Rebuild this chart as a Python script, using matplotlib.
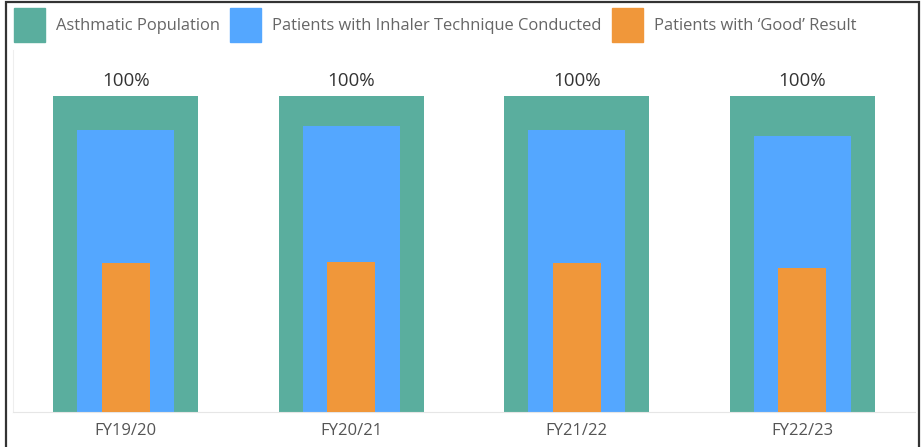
"""
plot.py — Asthma inhaler technique summary (nested bars)
"""
import matplotlib
matplotlib.use("Agg")
import matplotlib.pyplot as plt
import matplotlib.patches as mpatches
import numpy as np


# ── Data ──────────────────────────────────────────────────────────────
YEARS = ["FY19/20", "FY20/21", "FY21/22", "FY22/23"]
ASTHMATIC = [100, 100, 100, 100]           # % of asthmatic population
TECHNIQUE = [89.1, 90.4, 89.1, 87.3]       # % with inhaler technique conducted
GOOD = [47.2, 47.6, 47.2, 45.7]            # % with 'Good' result

SERIES_NAMES = [
    "Asthmatic Population",
    "Patients with Inhaler Technique Conducted",
    "Patients with \u2018Good\u2019 Result",
]
COLORS = ["#5aae9e", "#54a7ff", "#f0973a"]

plt.rcParams["font.family"] = ["Open Sans", "DejaVu Sans"]

# ── Figure ────────────────────────────────────────────────────────────
W, H = 922, 447
fig = plt.figure(figsize=(W / 100, H / 100), dpi=100)

ax_left, ax_right = 13 / W, 915 / W
ax_bottom, ax_top = 1 - 412 / H, 1 - 50 / H
ax = fig.add_axes([ax_left, ax_bottom, ax_right - ax_left, ax_top - ax_bottom])

x = np.arange(len(YEARS))
bars_green = ax.bar(x, ASTHMATIC, width=0.643, color=COLORS[0], zorder=1)
ax.bar(x, TECHNIQUE, width=0.43, color=COLORS[1], zorder=2)
ax.bar(x, GOOD, width=0.213, color=COLORS[2], zorder=3)

ax.bar_label(bars_green, labels=[f"{v:.0f}%" for v in ASTHMATIC],
             padding=4, fontsize=13.5, color="#333333")

ax.set_xlim(-0.5, len(YEARS) - 0.5)
ax.set_ylim(0, 100 * (412 - 50) / (412 - 96))
ax.set_xticks(x)
ax.set_xticklabels(YEARS, fontsize=12, color="#555555")
ax.tick_params(axis="x", length=0, pad=8)
ax.set_yticks([])

for side in ["top", "right"]:
    ax.spines[side].set_visible(False)
ax.spines["left"].set_color("#eeeeee")
ax.spines["bottom"].set_color("#e6e6e6")

# ── Legend ────────────────────────────────────────────────────────────
handles = [mpatches.Patch(color=c, label=n) for c, n in zip(COLORS, SERIES_NAMES)]
leg = fig.legend(handles=handles, loc="upper left", ncol=3,
                 bbox_to_anchor=(14 / W, 1 - 8 / H), frameon=False,
                 fontsize=11.9, handlelength=1.88, handleheight=2.79,
                 handletextpad=0.67, columnspacing=0.6, borderaxespad=0,
                 borderpad=0)
for t in leg.get_texts():
    t.set_color("#666666")

# ── Outer border ──────────────────────────────────────────────────────
border = mpatches.Rectangle((6 / W, -0.05), (919 - 6) / W, 1.05 - 1.5 / H,
                            transform=fig.transFigure, fill=False,
                            edgecolor="#333333", linewidth=1.6, clip_on=False)
fig.patches.append(border)

fig.savefig("out.png", dpi=100)
